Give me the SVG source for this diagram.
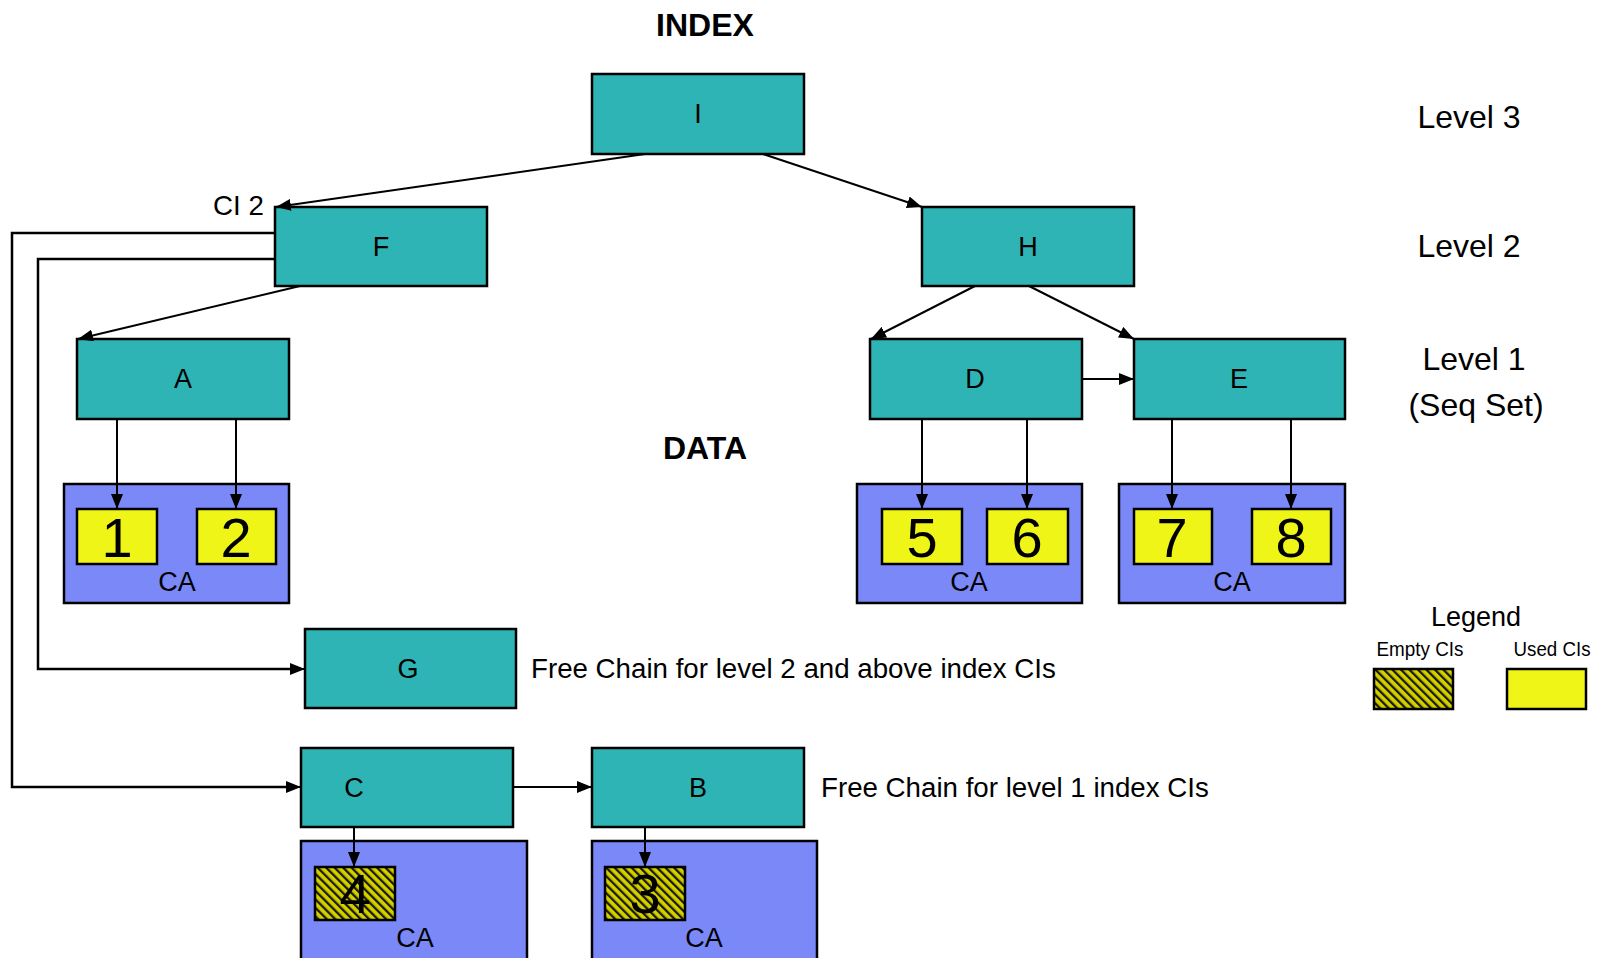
<svg xmlns="http://www.w3.org/2000/svg" width="1597" height="958" viewBox="0 0 1597 958">
<defs>
<marker id="ah" markerUnits="userSpaceOnUse" markerWidth="16" markerHeight="12" refX="15" refY="6" orient="auto">
<path d="M0,0 L15,6 L0,12 Z" fill="#000"/>
</marker>
<pattern id="hatch" patternUnits="userSpaceOnUse" width="6" height="6" patternTransform="rotate(-45)">
<rect width="6" height="6" fill="#D4D000"/>
<rect x="0" y="0" width="2.3" height="6" fill="#1a1a00"/>
</pattern>
<style>
.n{fill:#2EB4B4;stroke:#000;stroke-width:2.5}
.ca{fill:#7B88F8;stroke:#000;stroke-width:2.5}
.u{fill:#F0F518;stroke:#000;stroke-width:2.5}
.e{fill:url(#hatch);stroke:#000;stroke-width:2.5}
.c{fill:none;stroke:#000;stroke-width:2;marker-end:url(#ah)}
.p{fill:none;stroke:#000;stroke-width:2.5}
text{font-family:"Liberation Sans",Arial,sans-serif;fill:#000}
.l{font-size:27px;text-anchor:middle}
.big{font-size:56px;text-anchor:middle}
.t{font-size:27.7px}
.lv{font-size:32px;text-anchor:middle}
.h{font-size:32px;font-weight:bold;text-anchor:middle}
</style>
</defs>
<rect width="1597" height="958" fill="#fff"/>

<text class="h" x="705" y="36">INDEX</text>
<text class="h" x="705" y="459">DATA</text>
<text class="lv" x="1469" y="128">Level 3</text>
<text class="lv" x="1469" y="257">Level 2</text>
<text class="lv" x="1474" y="370">Level 1</text>
<text class="lv" x="1476" y="416">(Seq Set)</text>

<g id="node-I"><rect class="n" x="592" y="74" width="212" height="80"/><text class="l" x="698" y="123">I</text></g>
<g id="node-F"><rect class="n" x="275" y="207" width="212" height="79"/><text class="l" x="381" y="256">F</text>
<text class="t" x="213" y="215">CI 2</text></g>
<g id="node-H"><rect class="n" x="922" y="207" width="212" height="79"/><text class="l" x="1028" y="256">H</text></g>
<g id="node-A"><rect class="n" x="77" y="339" width="212" height="80"/><text class="l" x="183" y="388">A</text></g>
<g id="node-D"><rect class="n" x="870" y="339" width="212" height="80"/><text class="l" x="975" y="388">D</text></g>
<g id="node-E"><rect class="n" x="1134" y="339" width="211" height="80"/><text class="l" x="1239" y="388">E</text></g>

<g id="ca-A"><rect class="ca" x="64" y="484" width="225" height="119"/>
<rect class="u" x="77" y="509" width="80" height="55"/><text class="big" x="117" y="557">1</text>
<rect class="u" x="197" y="509" width="79" height="55"/><text class="big" x="236" y="557">2</text>
<text class="l" x="177" y="591">CA</text></g>
<g id="ca-D"><rect class="ca" x="857" y="484" width="225" height="119"/>
<rect class="u" x="882" y="509" width="80" height="55"/><text class="big" x="922" y="557">5</text>
<rect class="u" x="987" y="509" width="81" height="55"/><text class="big" x="1027" y="557">6</text>
<text class="l" x="969" y="591">CA</text></g>
<g id="ca-E"><rect class="ca" x="1119" y="484" width="226" height="119"/>
<rect class="u" x="1134" y="509" width="78" height="55"/><text class="big" x="1172" y="557">7</text>
<rect class="u" x="1252" y="509" width="79" height="55"/><text class="big" x="1291" y="557">8</text>
<text class="l" x="1232" y="591">CA</text></g>

<g id="node-G"><rect class="n" x="305" y="629" width="211" height="79"/><text class="l" x="408" y="678">G</text>
<text class="t" x="531" y="678">Free Chain for level 2 and above index CIs</text></g>

<g id="node-C"><rect class="n" x="301" y="748" width="212" height="79"/><text class="l" x="354" y="797">C</text></g>
<g id="node-B"><rect class="n" x="592" y="748" width="212" height="79"/><text class="l" x="698" y="797">B</text>
<text class="t" x="821" y="797">Free Chain for level 1 index CIs</text></g>

<g id="ca-C"><rect class="ca" x="301" y="841" width="226" height="130"/>
<rect class="e" x="315" y="867" width="80" height="53"/><text class="big" x="355" y="913">4</text>
<text class="l" x="415" y="947">CA</text></g>
<g id="ca-B"><rect class="ca" x="592" y="841" width="225" height="130"/>
<rect class="e" x="605" y="867" width="80" height="53"/><text class="big" x="645" y="913">3</text>
<text class="l" x="704" y="947">CA</text></g>

<g id="legend">
<text x="1476" y="626" style="font-size:27px;text-anchor:middle">Legend</text>
<text x="1420" y="656" textLength="87" lengthAdjust="spacingAndGlyphs" style="font-size:21px;text-anchor:middle">Empty CIs</text>
<text x="1552" y="656" textLength="77" lengthAdjust="spacingAndGlyphs" style="font-size:21px;text-anchor:middle">Used CIs</text>
<rect class="e" x="1374" y="669" width="79" height="40"/>
<rect class="u" x="1507" y="669" width="79" height="40"/>
</g>

<g id="connectors">
<line class="c" x1="645" y1="154" x2="276" y2="207"/>
<line class="c" x1="763" y1="154" x2="922" y2="207"/>
<line class="c" x1="300" y1="286" x2="78" y2="339"/>
<line class="c" x1="975" y1="286" x2="871" y2="339"/>
<line class="c" x1="1029" y1="286" x2="1134" y2="339"/>
<line class="c" x1="1082" y1="379" x2="1134" y2="379"/>
<line class="c" x1="117" y1="419" x2="117" y2="509"/>
<line class="c" x1="236" y1="419" x2="236" y2="509"/>
<line class="c" x1="922" y1="419" x2="922" y2="509"/>
<line class="c" x1="1027" y1="419" x2="1027" y2="509"/>
<line class="c" x1="1172" y1="419" x2="1172" y2="509"/>
<line class="c" x1="1291" y1="419" x2="1291" y2="509"/>
<polyline class="p" points="275,233 12,233 12,787 290,787"/>
<line class="c" x1="280" y1="787" x2="301" y2="787"/>
<polyline class="p" points="275,259 38,259 38,669 295,669"/>
<line class="c" x1="285" y1="669" x2="305" y2="669"/>
<line class="c" x1="513" y1="787" x2="592" y2="787"/>
<line class="c" x1="354" y1="827" x2="354" y2="867"/>
<line class="c" x1="645" y1="827" x2="645" y2="867"/>
</g>
</svg>
